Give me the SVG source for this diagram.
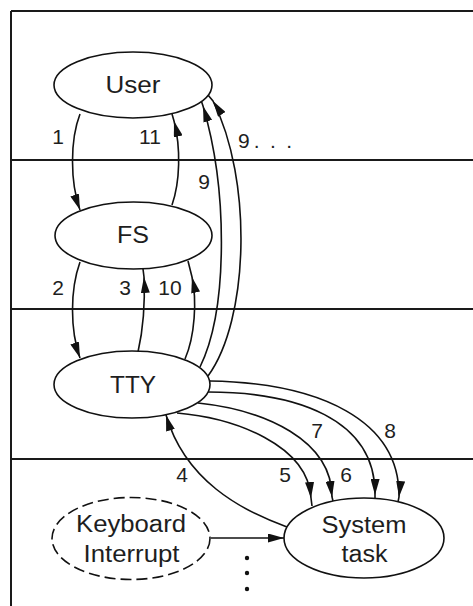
<svg xmlns="http://www.w3.org/2000/svg" width="473" height="606" viewBox="0 0 473 606">
  <style>
    .bg { fill: #ffffff; }
    .frame { stroke: #1a1a1a; stroke-width: 2; fill: none; }
    .node { fill: #ffffff; stroke: #111111; stroke-width: 1.6; }
    .dashed { stroke-dasharray: 11 5; }
    .ntext { font-family: "Liberation Sans", Arial, sans-serif; font-size: 23.5px; fill: #1e1e1e; text-anchor: middle; }
    .edge { fill: none; stroke: #111111; stroke-width: 1.6; }
    .lbl { font-family: "Liberation Sans", Arial, sans-serif; font-size: 21px; fill: #1e1e1e; text-anchor: middle; }
    .dot { fill: #111111; }
  </style>
  <defs>
    <marker id="ah" viewBox="0 0 16 9" refX="16" refY="4.5" markerWidth="16" markerHeight="9" markerUnits="userSpaceOnUse" orient="auto">
      <path d="M0,0 L16,4.5 L0,9 z" fill="#111111"/>
    </marker>
  </defs>

  <rect class="bg" x="0" y="0" width="473" height="606"/>

  <g id="lanes">
    <path class="frame" d="M11,11 H473 M11,11 V606"/>
    <path class="frame" d="M11,160 H473 M11,309 H473 M11,459 H473"/>
  </g>

  <g id="connectors">
    <!-- 1: User -> FS -->
    <path class="edge" d="M80,114 C70,140 70,182 80,210" marker-end="url(#ah)"/>
    <!-- 11: FS -> User -->
    <path class="edge" d="M172,205 C180,182 181,148 174,121 L172,114" marker-mid="url(#ah)"/>
    <!-- 2: FS -> TTY -->
    <path class="edge" d="M80,262 C70,290 70,330 80,358" marker-end="url(#ah)"/>
    <!-- 3: TTY -> FS -->
    <path class="edge" d="M138,352 C143,330 145,300 144,277 L143,269" marker-mid="url(#ah)"/>
    <!-- 10: TTY -> FS -->
    <path class="edge" d="M185,359 C195,336 197,300 192,277 L188,261" marker-mid="url(#ah)"/>
    <!-- 9: TTY -> User (inner) -->
    <path class="edge" d="M200,367 C228,310 228,190 203,106 L201,100" marker-mid="url(#ah)"/>
    <!-- 9...: TTY -> User (outer) -->
    <path class="edge" d="M208,376 C249,320 253,180 213,101 L208,95" marker-mid="url(#ah)"/>
    <!-- 4: System task -> TTY -->
    <path class="edge" d="M287,527 C240,510 185,480 166,415" marker-end="url(#ah)"/>
    <!-- 5..8: TTY -> System task -->
    <path class="edge" d="M177,413 C235,418 308,445 311,498 L312,506" marker-mid="url(#ah)"/>
    <path class="edge" d="M198,403 C265,410 332,440 332,497 L333,501" marker-mid="url(#ah)"/>
    <path class="edge" d="M208,392 C295,392 376,418 375,495 L375,499" marker-mid="url(#ah)"/>
    <path class="edge" d="M210,381 C320,383 400,420 399,497 L398,502" marker-mid="url(#ah)"/>
    <!-- Keyboard interrupt -> System task -->
    <path class="edge" d="M211,538 L284,538" marker-end="url(#ah)"/>

    <text class="lbl" x="58" y="144">1</text>
    <text class="lbl" x="150" y="144">11</text>
    <text class="lbl" x="238" y="148" style="text-anchor:start">9<tspan dx="4" letter-spacing="10.5">...</tspan></text>
    <text class="lbl" x="204" y="189">9</text>
    <text class="lbl" x="58" y="295">2</text>
    <text class="lbl" x="125" y="295">3</text>
    <text class="lbl" x="170" y="295">10</text>
    <text class="lbl" x="182" y="482">4</text>
    <text class="lbl" x="285" y="482">5</text>
    <text class="lbl" x="346" y="482">6</text>
    <text class="lbl" x="317" y="438">7</text>
    <text class="lbl" x="390" y="438">8</text>
  </g>

  <g id="user">
    <ellipse class="node" cx="133" cy="85" rx="79" ry="33"/>
    <text class="ntext" x="133" y="93" textLength="55" lengthAdjust="spacingAndGlyphs">User</text>
  </g>
  <g id="fs">
    <ellipse class="node" cx="133.5" cy="235.5" rx="78.5" ry="33.5"/>
    <text class="ntext" x="133" y="243" textLength="32" lengthAdjust="spacingAndGlyphs">FS</text>
  </g>
  <g id="tty">
    <ellipse class="node" cx="132" cy="384.5" rx="78" ry="33.5"/>
    <text class="ntext" x="133" y="392.5" textLength="46" lengthAdjust="spacingAndGlyphs">TTY</text>
  </g>
  <g id="keyboard-interrupt">
    <ellipse class="node dashed" cx="131" cy="538.5" rx="79" ry="41"/>
    <text class="ntext" x="131" y="532" textLength="110" lengthAdjust="spacingAndGlyphs">Keyboard</text>
    <text class="ntext" x="131.5" y="562" textLength="96" lengthAdjust="spacingAndGlyphs">Interrupt</text>
  </g>
  <g id="system-task">
    <ellipse class="node" cx="364" cy="538" rx="80" ry="40"/>
    <text class="ntext" x="364" y="533" textLength="85" lengthAdjust="spacingAndGlyphs">System</text>
    <text class="ntext" x="364.5" y="562" textLength="46" lengthAdjust="spacingAndGlyphs">task</text>
  </g>

  <g id="continuation">
    <circle class="dot" cx="247" cy="558" r="2.2"/>
    <circle class="dot" cx="247" cy="573" r="2.2"/>
    <circle class="dot" cx="247" cy="589" r="2.2"/>
  </g>
</svg>
